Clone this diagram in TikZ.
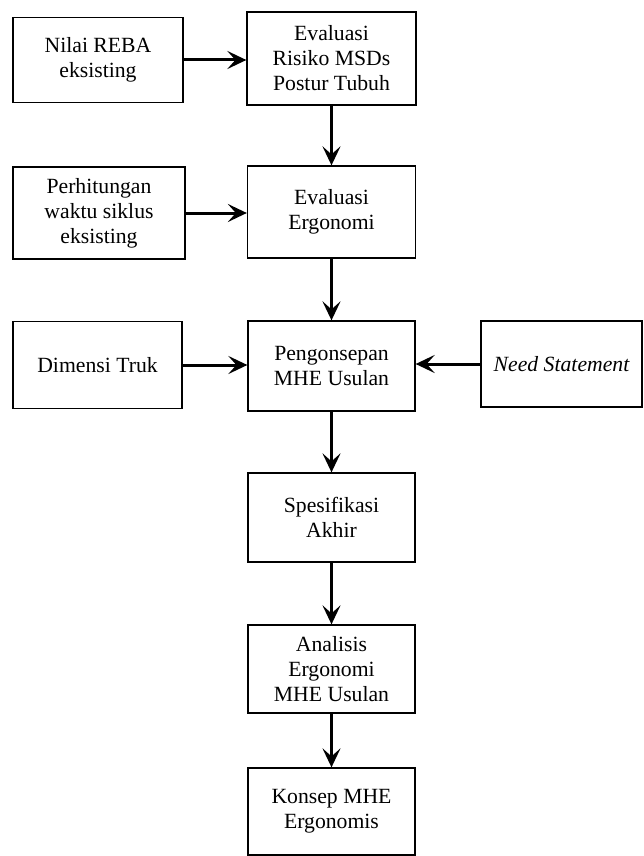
\documentclass[tikz,border=0pt]{standalone}
\usepackage{fontspec}
\setmainfont{Liberation Serif}
\usetikzlibrary{arrows.meta}

\begin{document}
\begin{tikzpicture}[x=1pt, y=-1pt,
		kotak/.style={draw, line width=1.3pt, align=center, inner sep=0pt,
			font=\fontsize{21.7}{25}\selectfont},
		panah/.style={line width=3pt, -{Stealth[length=19pt, width=18pt, inset=8pt]}}]
		\useasboundingbox (0,0) rectangle (643,856);
		
		% kolom kiri
		\node[kotak, minimum width=170pt, minimum height=85pt] (reba) at (98,60) {Nilai REBA\\eksisting};
		\node[kotak, minimum width=172pt, minimum height=92pt] (siklus) at (99,213) {Perhitungan\\waktu siklus\\eksisting};
		\node[kotak, minimum width=169pt, minimum height=87pt] (truk) at (97.5,365) {Dimensi Truk};
		
		% kolom tengah
		\node[kotak, minimum width=169pt, minimum height=93pt] (risiko) at (331.5,58.5) {Evaluasi\\Risiko MSDs\\Postur Tubuh};
		\node[kotak, minimum width=168pt, minimum height=92pt] (ergo) at (331.5,212) {Evaluasi\\Ergonomi};
		\node[kotak, minimum width=167pt, minimum height=90pt] (konsep) at (331.5,366) {Pengonsepan\\MHE Usulan};
		\node[kotak, minimum width=167pt, minimum height=89pt] (spek) at (331.5,517.5) {Spesifikasi\\Akhir};
		\node[kotak, minimum width=167pt, minimum height=88pt] (analisis) at (331.5,669) {Analisis\\Ergonomi\\MHE Usulan};
		\node[kotak, minimum width=167pt, minimum height=87pt] (hasil) at (331.5,811.5) {Konsep MHE\\Ergonomis};
		
		% kolom kanan
		\node[kotak, minimum width=161pt, minimum height=86pt] (need) at (561.5,364) {\itshape Need Statement};
		
		% panah
		\draw[panah] (reba.east) -- (reba.east -| risiko.west);
		\draw[panah] (siklus.east) -- (siklus.east -| ergo.west);
		\draw[panah] (truk.east) -- (truk.east -| konsep.west);
		\draw[panah] (need.west) -- (need.west -| konsep.east);
		\draw[panah] (risiko) -- (ergo);
		\draw[panah] (ergo) -- (konsep);
		\draw[panah] (konsep) -- (spek);
		\draw[panah] (spek) -- (analisis);
		\draw[panah] (analisis) -- (hasil);
	\end{tikzpicture}
\end{document}
